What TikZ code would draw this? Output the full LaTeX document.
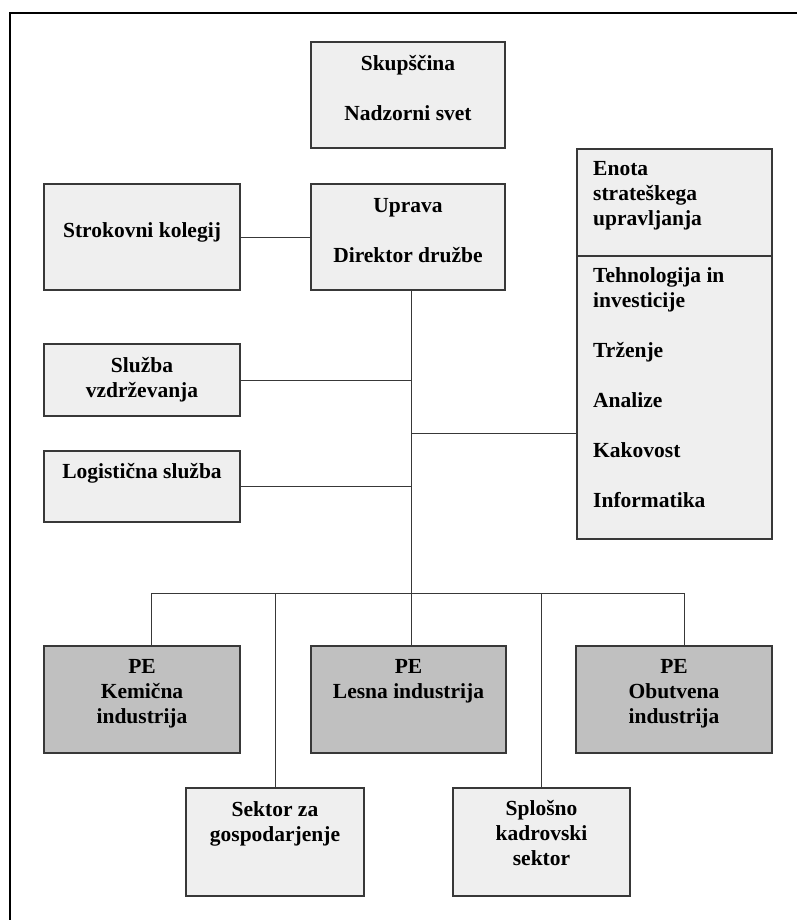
\documentclass[tikz,border=0pt]{standalone}
\usepackage{fontspec}
\setmainfont{Liberation Serif}
\definecolor{boxlight}{HTML}{EFEFEF}
\definecolor{boxdark}{HTML}{C0C0C0}
\definecolor{edge}{HTML}{383838}
\begin{document}
\begin{tikzpicture}[x=1pt,y=-1pt,
  box/.style={draw=edge, line width=1.3pt, fill=boxlight, rectangle, inner sep=0},
  pebox/.style={box, fill=boxdark},
  txt/.style={font=\bfseries\fontsize{21.5}{25}\selectfont, text=black, inner sep=0, anchor=north, align=center},
  ltxt/.style={txt, anchor=north west, align=left},
  conn/.style={draw=edge, line width=1pt}]
\useasboundingbox (0,0) rectangle (797,920);
% frame (only top and left edges visible)
\draw[line width=2pt] (10,920) -- (10,13) -- (797,13);
% boxes
\newcommand{\mkbox}[6]{\node[#1, minimum width={#5-#3}, minimum height={#6-#4}] (#2) at ({(#3+#5)/2},{(#4+#6)/2}) {};}
\mkbox{box}{skup}{311}{42}{505}{148}
\mkbox{box}{uprava}{311}{184}{505}{290}
\mkbox{box}{strok}{44}{184}{240}{290}
\mkbox{box}{sluzba}{44}{344}{240}{416}
\mkbox{box}{logist}{44}{451}{240}{522}
\mkbox{box}{enota}{577}{149}{772}{539}
\mkbox{pebox}{kem}{44}{646}{240}{753}
\mkbox{pebox}{lesna}{311}{646}{506}{753}
\mkbox{pebox}{obut}{576}{646}{772}{753}
\mkbox{box}{sektor}{186}{788}{364}{896}
\mkbox{box}{splos}{453}{788}{630}{896}
\draw[draw=edge, line width=1.3pt] (enota.west |- 0,256) -- (enota.east |- 0,256);
% texts (north = first baseline - 17.5)
\node[txt] (tskup) at (408,52.5) {\strut Skupščina\\[25pt]\strut Nadzorni svet};
\node[txt] (tupr) at (408,194.5) {\strut Uprava\\[25pt]\strut Direktor družbe};
\node[txt] (tstrok) at (142,219.5) {\strut Strokovni kolegij};
\node[txt] (tsluz) at (142,354.5) {\strut Služba\\\strut vzdrževanja};
\node[txt] (tlog) at (142,460.5) {\strut Logistična služba};
\node[ltxt] (tenota) at (593,157.5) {\strut Enota\\\strut strateškega\\\strut upravljanja};
\node[ltxt] (tenota2) at (593,264.5) {\strut Tehnologija in\\\strut investicije\\[25pt]\strut Trženje\\[25pt]\strut Analize\\[25pt]\strut Kakovost\\[25pt]\strut Informatika};
\node[txt] (tkem) at (142,655.5) {\strut PE\\\strut Kemična\\\strut industrija};
\node[txt] (tles) at (408.5,655.5) {\strut PE\\\strut Lesna industrija};
\node[txt] (tobu) at (674,655.5) {\strut PE\\\strut Obutvena\\\strut industrija};
\node[txt] (tsek) at (275,798.5) {\strut Sektor za\\\strut gospodarjenje};
\node[txt] (tspl) at (541.5,797.5) {\strut Splošno\\\strut kadrovski\\\strut sektor};
% connectors
\coordinate (trunk) at (411,290);
\coordinate (bus) at (411,593);
\coordinate (busl) at (151,593);
\coordinate (busr) at (684,593);
\coordinate (ebranch) at (411,433);
\draw[conn] (strok.east) -- (uprava.west);
\draw[conn] (trunk) -- (bus);
\draw[conn] (sluzba.east) -- (sluzba.east -| trunk);
\draw[conn] (logist.east) -- (logist.east -| trunk);
\draw[conn] (ebranch) -- (ebranch -| enota.west);
\draw[conn] (busl) -- (busr);
\draw[conn] (busl) -- (busl |- kem.north);
\draw[conn] (bus) -- (bus |- lesna.north);
\draw[conn] (busr) -- (busr |- obut.north);
\draw[conn] (sektor.north) -- (sektor.north |- bus);
\draw[conn] (541,593) -- (541,788);
\end{tikzpicture}
\end{document}
